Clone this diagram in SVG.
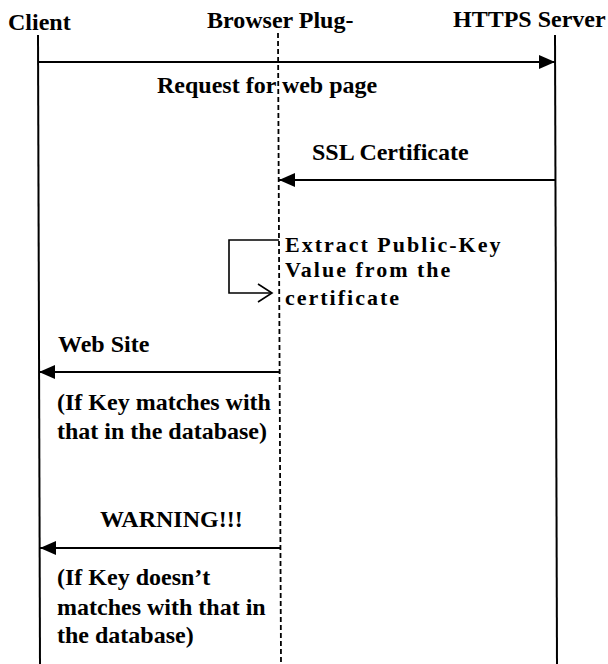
<svg xmlns="http://www.w3.org/2000/svg" width="608" height="664" viewBox="0 0 608 664">
  <style>
    text { font-family: "Liberation Serif", "Times New Roman", serif; font-weight: bold; font-size: 24px; fill: #000; }
    .note { font-size: 22px; letter-spacing: 2px; }
    .life { stroke: #000; stroke-width: 2; fill: none; }
    .plug { stroke: #000; stroke-width: 1.8; stroke-dasharray: 5 3; fill: none; }
    .msg { stroke: #000; stroke-width: 2.2; fill: none; }
    .self { stroke: #000; stroke-width: 1.6; fill: none; }
  </style>
  <defs>
    <marker id="head" viewBox="0 0 16 14" refX="16" refY="7" markerWidth="16" markerHeight="14" markerUnits="userSpaceOnUse" orient="auto">
      <path d="M0 0 L16 7 L0 14 Z" fill="#000"/>
    </marker>
  </defs>
  <rect width="608" height="664" fill="#fff"/>

  <!-- lifelines with their headings -->
  <g id="client">
    <text x="8" y="30">Client</text>
    <line class="life" x1="38" y1="35" x2="40" y2="664"/>
  </g>
  <g id="plugin">
    <text x="207" y="28">Browser Plug-</text>
    <line class="plug" x1="278" y1="33" x2="281" y2="664"/>
  </g>
  <g id="server">
    <text x="453" y="27">HTTPS Server</text>
    <line class="life" x1="555" y1="35" x2="557" y2="664"/>
  </g>

  <!-- messages -->
  <g id="connectors">
    <line class="msg" x1="38" y1="62" x2="555" y2="62" marker-end="url(#head)"/>
    <line class="msg" x1="556" y1="180" x2="279" y2="180" marker-end="url(#head)"/>
    <path class="self" d="M279 240 H229 V293 H272"/>
    <path class="self" d="M258 284 L272 293 L258 302"/>
    <line class="msg" x1="280" y1="372" x2="39" y2="372" marker-end="url(#head)"/>
    <line class="msg" x1="281" y1="548" x2="40" y2="548" marker-end="url(#head)"/>
  </g>

  <g id="labels">
    <text x="157" y="93">Request for web page</text>
    <text x="312" y="160">SSL Certificate</text>
    <text class="note" x="285" y="252">Extract Public-Key</text>
    <text class="note" x="285" y="277">Value from the</text>
    <text class="note" x="285" y="305">certificate</text>
    <text x="58" y="352">Web Site</text>
    <text x="57" y="410">(If Key matches with</text>
    <text x="57" y="439">that in the database)</text>
    <text x="100" y="527">WARNING!!!</text>
    <text x="57" y="585">(If Key doesn’t</text>
    <text x="57" y="615">matches with that in</text>
    <text x="57" y="643">the database)</text>
  </g>
</svg>
